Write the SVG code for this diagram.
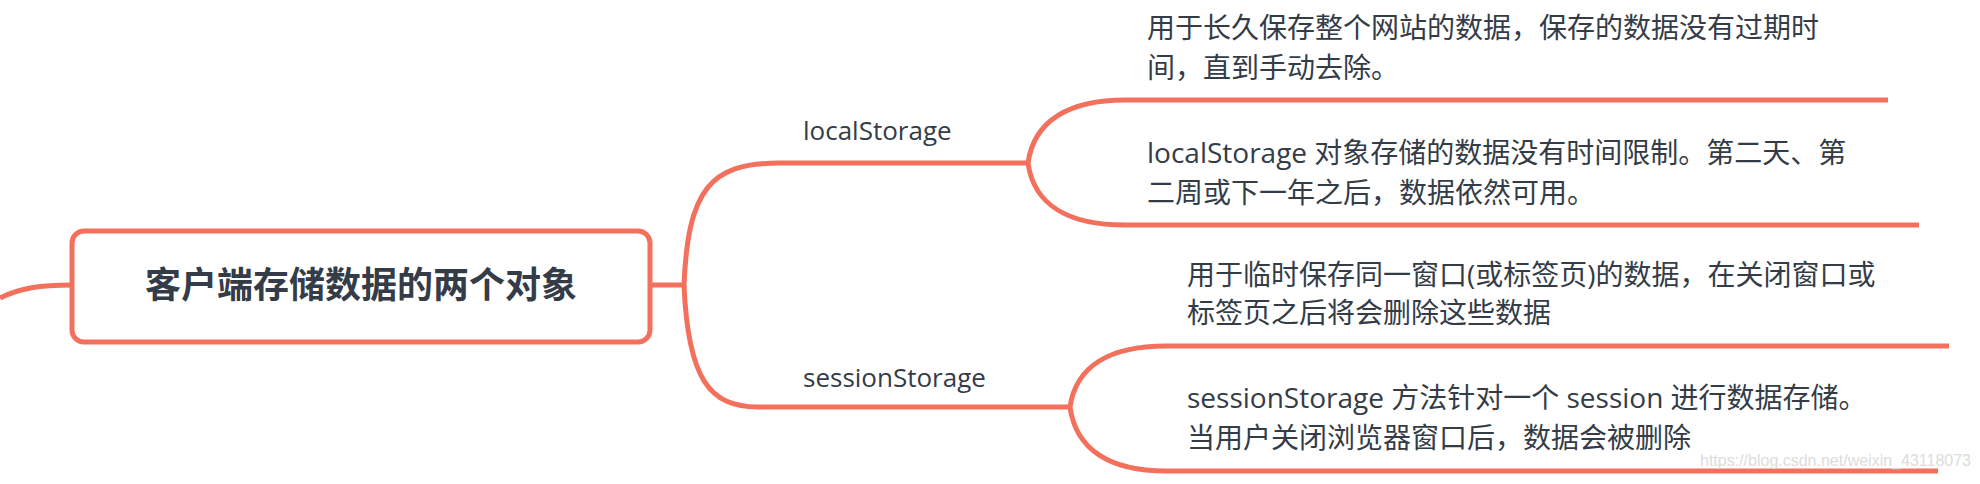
<svg xmlns="http://www.w3.org/2000/svg" width="1980" height="484" viewBox="0 0 1980 484">
<style>
.c{fill:none;stroke:#f3705c;stroke-width:5;stroke-linecap:butt}
.t{font-family:"Open Sans","Noto Sans CJK SC",sans-serif;fill:#333c47}
.b{font-size:28px}
.s{font-size:26px}
</style>
<rect width="1980" height="484" fill="#fff"/>
<g id="connectors">
<path class="c" d="M0 298 C20 288 40 285 72 285"/>
<path class="c" d="M650 285 L684 285 C688 190 710 163 779 163 L1028 163"/>
<path class="c" d="M684 285 C688 380 710 407 758 407 L1070 407"/>
<path class="c" d="M1028 163 C1034 120 1070 100 1125 100 L1888 100"/>
<path class="c" d="M1028 163 C1034 206 1070 225 1125 225 L1919 225"/>
<path class="c" d="M1070 407 C1076 366 1110 346 1166 346 L1949 346"/>
<path class="c" d="M1070 407 C1076 450 1110 471 1166 471 L1938 471"/>
</g>
<g id="root">
<rect x="72" y="231" width="578" height="111" rx="12" fill="#fff" stroke="#f3705c" stroke-width="5"/>
<text class="t" x="361" y="298" text-anchor="middle" font-size="36" font-weight="bold">客户端存储数据的两个对象</text>
</g>
<g id="local"><text class="t s" x="803" y="140">localStorage</text></g>
<g id="session"><text class="t s" x="803" y="387">sessionStorage</text></g>
<g id="l1"><text class="t b" x="1147" y="38">用于长久保存整个网站的数据，保存的数据没有过期时</text><text class="t b" x="1147" y="78">间，直到手动去除。</text></g>
<g id="l2"><text class="t b" x="1147" y="163">localStorage 对象存储的数据没有时间限制。第二天、第</text><text class="t b" x="1147" y="203">二周或下一年之后，数据依然可用。</text></g>
<g id="s1"><text class="t b" x="1187" y="285">用于临时保存同一窗口(或标签页)的数据，在关闭窗口或</text><text class="t b" x="1187" y="323">标签页之后将会删除这些数据</text></g>
<g id="s2"><text class="t b" x="1187" y="408">sessionStorage 方法针对一个 session 进行数据存储。</text><text class="t b" x="1187" y="448">当用户关闭浏览器窗口后，数据会被删除</text></g>
<text x="1700" y="466" font-family="Liberation Sans,sans-serif" font-size="16" fill="#dcdcdc">https://blog.csdn.net/weixin_43118073</text>
</svg>
